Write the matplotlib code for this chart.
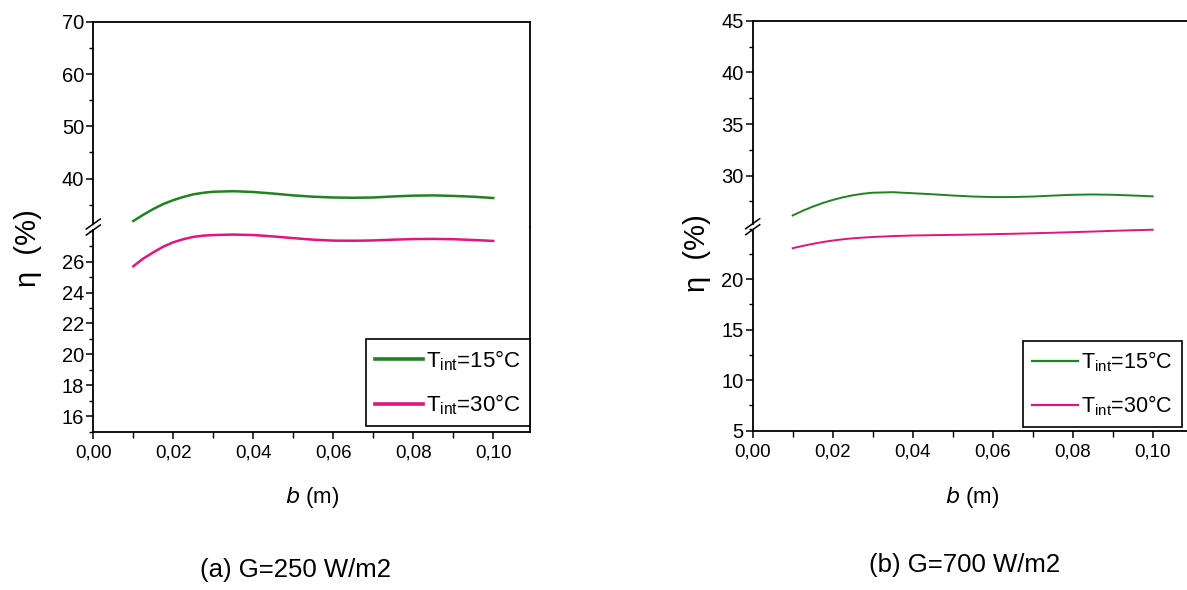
import matplotlib
matplotlib.use('Agg')
import matplotlib.pyplot as plt
from matplotlib.lines import Line2D
from matplotlib.ticker import FixedLocator, MultipleLocator

plt.rcParams['font.family'] = ['Liberation Sans', 'DejaVu Sans']
plt.rcParams['mathtext.default'] = 'regular'

# ---------------- data ----------------
b = [0.010, 0.0125, 0.015, 0.0175, 0.020, 0.0225, 0.025, 0.0275, 0.030, 0.035,
     0.040, 0.045, 0.050, 0.055, 0.060, 0.065, 0.070, 0.075, 0.080, 0.085,
     0.090, 0.095, 0.100]

# (a) G = 250 W/m2
eta_a_15 = [31.9, 33.1, 34.2, 35.15, 35.9, 36.5, 37.0, 37.3, 37.5, 37.6,
            37.45, 37.15, 36.8, 36.55, 36.4, 36.35, 36.4, 36.6, 36.75, 36.8,
            36.7, 36.55, 36.3]
eta_a_30 = [25.7, 26.2, 26.6, 26.97, 27.25, 27.45, 27.6, 27.68, 27.72, 27.75,
            27.72, 27.63, 27.52, 27.42, 27.36, 27.35, 27.37, 27.42, 27.46, 27.47,
            27.45, 27.4, 27.34]

# (b) G = 700 W/m2
eta_b_15 = [26.15, 26.6, 27.0, 27.35, 27.65, 27.9, 28.1, 28.25, 28.35, 28.4,
            28.3, 28.2, 28.08, 27.98, 27.93, 27.93, 27.98, 28.07, 28.15, 28.18,
            28.15, 28.08, 28.0]
eta_b_30 = [23.07, 23.3, 23.5, 23.68, 23.83, 23.95, 24.05, 24.12, 24.18, 24.27,
            24.33, 24.36, 24.39, 24.42, 24.46, 24.5, 24.55, 24.6, 24.66, 24.72,
            24.79, 24.85, 24.9]

x_ticks = [0.00, 0.02, 0.04, 0.06, 0.08, 0.10]
x_tick_labels = ['0,00', '0,02', '0,04', '0,06', '0,08', '0,10']
series_labels = ['T$_{int}$=15°C', 'T$_{int}$=30°C']
captions = ['(a) G=250 W/m2', '(b) G=700 W/m2']
y_label = 'η  (%)'
x_label = '$\\mathit{b}$ (m)'

a_top_ticks = [40, 50, 60, 70]
a_bot_ticks = [16, 18, 20, 22, 24, 26]
b_top_ticks = [30, 35, 40, 45]
b_bot_ticks = [5, 10, 15, 20]

col15 = '#1f841f'
col30 = '#e2147d'

# ---------------- layout ----------------
W, H = 1187, 590
fig = plt.figure(figsize=(W / 100, H / 100), dpi=100)


def fx(px):
    return px / W


def fy(py):
    return 1 - py / H


panels = [
    dict(xl=93.3, xr=530.0, ytop=21.7, ybrk=227.0, ybot=431.7, xlim=(0, 0.1092),
         top_lim=(30.76, 70), bot_lim=(15, 28.24),
         top_ticks=a_top_ticks, top_minor=5, bot_ticks=a_bot_ticks, bot_minor=1,
         y15=eta_a_15, y30=eta_a_30, lw=1.8, leg_lw=2.6, leg_fs=16,
         leg_anchor=(530.0, 426.0), ylab=(27.5, 248), xlab=(312, 497),
         cap=(296, 570)),
    dict(xl=752.7, xr=1192.7, ytop=20.7, ybrk=226.7, ybot=430.7, xlim=(0, 0.11),
         top_lim=(25.06, 45), bot_lim=(5, 25.2),
         top_ticks=b_top_ticks, top_minor=2.5, bot_ticks=b_bot_ticks, bot_minor=2.5,
         y15=eta_b_15, y30=eta_b_30, lw=1.4, leg_lw=1.6, leg_fs=15.5,
         leg_anchor=(1181.7, 426.7), ylab=(697, 253), xlab=(972, 497),
         cap=(965, 565)),
]

tick_fs = 14.5
for i, p in enumerate(panels):
    left = fx(p['xl'])
    width = fx(p['xr']) - fx(p['xl'])
    ax_t = fig.add_axes([left, fy(p['ybrk']), width, fy(p['ytop']) - fy(p['ybrk'])])
    ax_b = fig.add_axes([left, fy(p['ybot']), width, fy(p['ybrk']) - fy(p['ybot'])])

    for ax in (ax_t, ax_b):
        ax.set_xlim(*p['xlim'])
        ax.plot(b, p['y15'], color=col15, lw=p['lw'], label=series_labels[0])
        ax.plot(b, p['y30'], color=col30, lw=p['lw'], label=series_labels[1])
        for s in ax.spines.values():
            s.set_linewidth(1.3)
        ax.tick_params(axis='y', which='major', direction='out', length=5, width=1.1,
                       labelsize=tick_fs, pad=1.5, right=False)
        ax.tick_params(axis='y', which='minor', direction='out', length=3, width=1.0,
                       right=False)

    ax_t.set_ylim(*p['top_lim'])
    ax_b.set_ylim(*p['bot_lim'])
    ax_t.yaxis.set_major_locator(FixedLocator(p['top_ticks']))
    ax_t.yaxis.set_minor_locator(MultipleLocator(p['top_minor']))
    ax_b.yaxis.set_major_locator(FixedLocator(p['bot_ticks']))
    ax_b.yaxis.set_minor_locator(MultipleLocator(p['bot_minor']))

    ax_t.spines['bottom'].set_visible(False)
    ax_t.tick_params(axis='x', which='both', bottom=False, top=False, labelbottom=False)
    ax_b.spines['top'].set_visible(False)

    ax_b.set_xticks(x_ticks)
    ax_b.set_xticklabels(x_tick_labels)
    ax_b.xaxis.set_minor_locator(MultipleLocator(0.01))
    ax_b.tick_params(axis='x', which='major', direction='out', length=5, width=1.1,
                     labelsize=13.5, pad=4, top=False)
    ax_b.tick_params(axis='x', which='minor', direction='out', length=4, width=1.0,
                     top=False)

    # broken axis: shorten left spines and add "//" marks
    gap = 3.0
    t0, t1 = p['top_lim']
    v_t = t0 + gap / (p['ybrk'] - p['ytop']) * (t1 - t0)
    ax_t.spines['left'].set_bounds(v_t, t1)
    b0, b1 = p['bot_lim']
    v_b = b1 - gap / (p['ybot'] - p['ybrk']) * (b1 - b0)
    ax_b.spines['left'].set_bounds(b0, v_b)
    for dy in (-gap, gap):
        yc = p['ybrk'] + dy
        fig.add_artist(Line2D([fx(p['xl'] - 7), fx(p['xl'] + 7)],
                              [fy(yc + 5), fy(yc - 5)], color='black', lw=1.1,
                              transform=fig.transFigure))

    # legend
    leg = ax_b.legend(loc='lower right',
                      bbox_to_anchor=(fx(p['leg_anchor'][0]), fy(p['leg_anchor'][1])),
                      bbox_transform=fig.transFigure, frameon=True, fancybox=False,
                      edgecolor='black', framealpha=1, fontsize=p['leg_fs'],
                      handlelength=2.15, handletextpad=0.15, borderpad=0.4,
                      labelspacing=0.9, borderaxespad=0)
    leg.get_frame().set_linewidth(1.2)
    for ln in leg.get_lines():
        ln.set_linewidth(p['leg_lw'])

    # labels
    fig.text(fx(p['ylab'][0]), fy(p['ylab'][1]), y_label, rotation=90,
             ha='center', va='center', fontsize=21)
    fig.text(fx(p['xlab'][0]), fy(p['xlab'][1]), x_label, ha='center', va='center',
             fontsize=16)
    fig.text(fx(p['cap'][0]), fy(p['cap'][1]), captions[i], ha='center', va='center',
             fontsize=18.5)

fig.savefig('out.png', dpi=100)
